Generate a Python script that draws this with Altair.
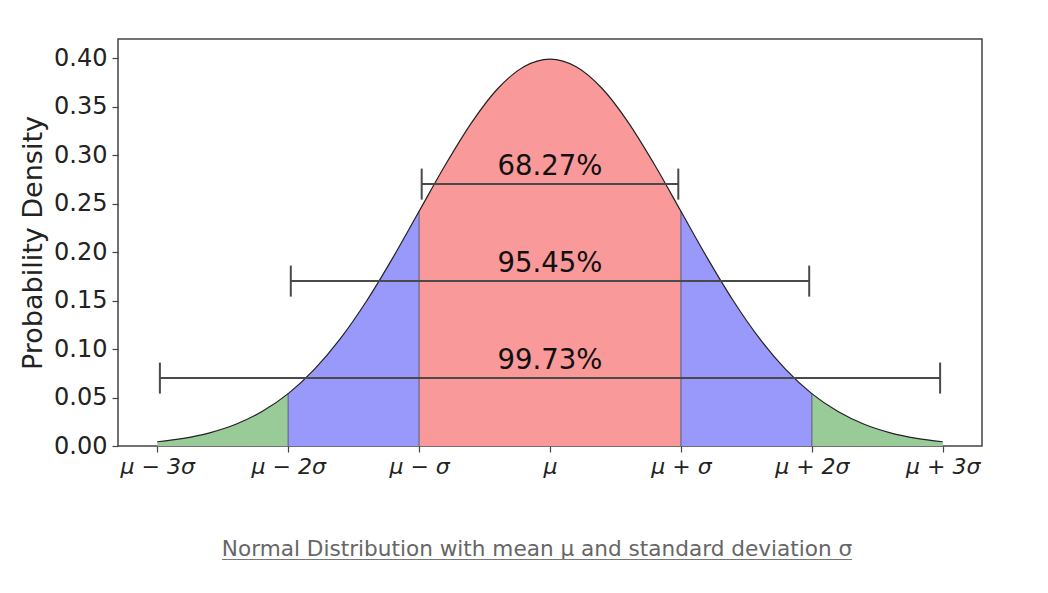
import altair as alt
import pandas as pd

# curve (density in units of 1/sigma)
xs = [-3.0, -2.8, -2.6, -2.4, -2.2, -2.0, -1.8, -1.6, -1.4, -1.2, -1.0,
      -0.8, -0.6, -0.4, -0.2, 0.0, 0.2, 0.4, 0.6, 0.8, 1.0,
      1.2, 1.4, 1.6, 1.8, 2.0, 2.2, 2.4, 2.6, 2.8, 3.0]
ys = [0.0044, 0.0079, 0.0136, 0.0224, 0.0355, 0.0540, 0.0790, 0.1109, 0.1497, 0.1942, 0.2420,
      0.2897, 0.3332, 0.3683, 0.3910, 0.3989, 0.3910, 0.3683, 0.3332, 0.2897, 0.2420,
      0.1942, 0.1497, 0.1109, 0.0790, 0.0540, 0.0355, 0.0224, 0.0136, 0.0079, 0.0044]

# shaded segments: (name, band, start, end)
seg_names = ["L3", "L2", "C1", "R2", "R3"]
seg_bands = ["outer", "middle", "inner", "middle", "outer"]
seg_lo = [-3.0, -2.0, -1.0, 1.0, 2.0]
seg_hi = [-2.0, -1.0, 1.0, 2.0, 3.0]
band_names = ["inner", "middle", "outer"]
band_colors = ["#fa9999", "#9999fc", "#99cb99"]

# boundaries between bands
bound_x = [-2.0, -1.0, 1.0, 2.0]
bound_y = [0.0540, 0.2420, 0.2420, 0.0540]

# interval bars (ends as read, slightly inside the sigma marks)
bar_lo = [-0.98, -1.98, -2.98]
bar_hi = [0.98, 1.98, 2.98]
bar_y = [0.27, 0.17, 0.07]
bar_text = ["68.27%", "95.45%", "99.73%"]
cap_half = 0.016

tick_vals = [-3, -2, -1, 0, 1, 2, 3]
tick_text = ["μ − 3σ", "μ − 2σ", "μ − σ", "μ", "μ + σ", "μ + 2σ", "μ + 3σ"]

caption = "Normal Distribution with mean μ and standard deviation σ"

# ---- tables
rows = []
for n, b, lo, hi in zip(seg_names, seg_bands, seg_lo, seg_hi):
    for x, y in zip(xs, ys):
        if lo - 1e-9 <= x <= hi + 1e-9:
            rows.append({"x": x, "y": y, "seg": n, "band": b})
area_df = pd.DataFrame(rows)
curve_df = pd.DataFrame({"x": xs, "y": ys})
bound_df = pd.DataFrame({"x": bound_x, "y": bound_y, "y0": [0.0] * len(bound_x)})
bar_df = pd.DataFrame({"lo": bar_lo, "hi": bar_hi, "y": bar_y, "label": bar_text,
                       "mid": [(a + b) / 2 for a, b in zip(bar_lo, bar_hi)]})
cap_rows = []
for lo, hi, y in zip(bar_lo, bar_hi, bar_y):
    cap_rows.append({"x": lo, "y1": y - cap_half, "y2": y + cap_half})
    cap_rows.append({"x": hi, "y1": y - cap_half, "y2": y + cap_half})
cap_df = pd.DataFrame(cap_rows)

label_expr = " : ".join(
    f"datum.value == {v} ? '{t}'" for v, t in zip(tick_vals, tick_text)
) + " : ''"

W, H = 864, 407
xscale = alt.Scale(domain=[-3.3, 3.3], nice=False, zero=False)
yscale = alt.Scale(domain=[0, 0.4196], nice=False)

x_axis = alt.Axis(values=tick_vals, labelExpr=label_expr, title=None, grid=False,
                  domain=False, tickColor="#444", tickSize=6, tickWidth=1.2,
                  labelFont="DejaVu Sans", labelFontStyle="italic", labelFontSize=22,
                  labelColor="#222", labelPadding=4)
y_axis = alt.Axis(values=[0, 0.05, 0.1, 0.15, 0.2, 0.25, 0.3, 0.35, 0.4], format=".2f",
                  title="Probability Density", grid=False, domain=False,
                  tickColor="#444", tickSize=6, tickWidth=1.2,
                  labelFont="DejaVu Sans", labelFontSize=24, labelColor="#222",
                  labelPadding=5, titleFont="DejaVu Sans", titleFontSize=27,
                  titleFontWeight="normal", titleColor="#222",
                  titleX=-85, titleY=H / 2, titleAngle=270, titleAlign="center",
                  titleBaseline="middle")

areas = alt.Chart(area_df).mark_area(opacity=1, interpolate="monotone").encode(
    x=alt.X("x:Q", scale=xscale, axis=x_axis),
    y=alt.Y("y:Q", scale=yscale, axis=y_axis, stack=None),
    color=alt.Color("band:N", scale=alt.Scale(domain=band_names, range=band_colors), legend=None),
    detail="seg:N",
)

bounds = alt.Chart(bound_df).mark_rule(color="#5a5a7a", strokeWidth=1.3, opacity=0.8).encode(
    x=alt.X("x:Q", scale=xscale), y=alt.Y("y0:Q", scale=yscale), y2="y:Q"
)

curve = alt.Chart(curve_df).mark_line(color="#222", strokeWidth=1.2, interpolate="monotone").encode(
    x=alt.X("x:Q", scale=xscale), y=alt.Y("y:Q", scale=yscale)
)

bars = alt.Chart(bar_df).mark_rule(color="#4a4a4a", strokeWidth=2).encode(
    x=alt.X("lo:Q", scale=xscale), x2="hi:Q", y=alt.Y("y:Q", scale=yscale)
)
caps = alt.Chart(cap_df).mark_rule(color="#4a4a4a", strokeWidth=2).encode(
    x=alt.X("x:Q", scale=xscale), y=alt.Y("y1:Q", scale=yscale), y2="y2:Q"
)
labels = alt.Chart(bar_df).mark_text(font="DejaVu Sans", fontSize=27.5, color="#111",
                                     baseline="alphabetic", align="center", dy=-9).encode(
    x=alt.X("mid:Q", scale=xscale), y=alt.Y("y:Q", scale=yscale), text="label:N"
)

cap_df2 = pd.DataFrame({"t": [caption]})
cap_text = alt.Chart(cap_df2).mark_text(font="DejaVu Sans", fontSize=21.6, color="#666666",
                                        align="center", baseline="alphabetic").encode(
    x=alt.value(419), y=alt.value(517), text="t:N"
)
underline = alt.Chart(cap_df2).mark_rule(color="#777", strokeWidth=1).encode(
    x=alt.value(104), x2=alt.value(734), y=alt.value(520.5)
)

chart = alt.layer(areas, bounds, curve, bars, caps, labels, cap_text, underline).properties(
    width=W, height=H,
    background="white",
    autosize=alt.AutoSizeParams(type="none"),
    padding={"left": 110, "top": 31, "right": 40, "bottom": 120},
).configure_view(stroke="#444", strokeWidth=1.5)

chart.save("out.html", embed_options={"renderer": "svg", "actions": False})
